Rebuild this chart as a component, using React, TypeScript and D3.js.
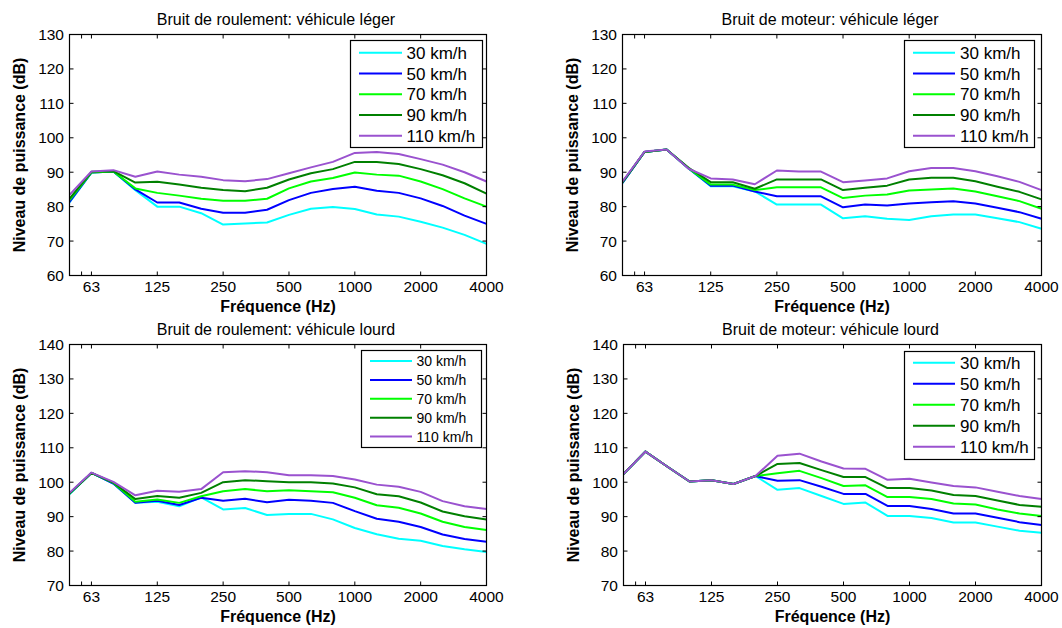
import React from 'react';
import * as d3 from 'd3';

// 1/3-octave band index positions (50 Hz .. 4000 Hz -> index 0..19)
const bandCount = 20;
const freqTickIndex = [1, 4, 7, 10, 13, 16, 19];
const freqTickLabels = ['63', '125', '250', '500', '1000', '2000', '4000'];
const speedLabels = ['30 km/h', '50 km/h', '70 km/h', '90 km/h', '110 km/h'];
const speedColors = ['#00ffff', '#0000ff', '#00ff00', '#008000', '#9a52cf'];

// Bruit de roulement: véhicule léger
const rollLight30 = [81.2, 89.9, 90.2, 84.8, 80.0, 80.0, 78.1, 74.8, 75.1, 75.4, 77.6, 79.4, 79.9, 79.3, 77.7, 77.1, 75.6, 73.9, 71.8, 69.2];
const rollLight50 = [81.4, 89.9, 90.2, 85.0, 81.2, 81.2, 79.4, 78.2, 78.2, 79.1, 81.9, 84.0, 85.1, 85.8, 84.6, 84.0, 82.4, 80.2, 77.4, 75.0];
const rollLight70 = [81.9, 89.9, 90.2, 85.3, 84.0, 83.2, 82.3, 81.7, 81.7, 82.3, 85.3, 87.3, 88.3, 89.9, 89.3, 89.0, 87.3, 85.1, 82.4, 80.0];
const rollLight90 = [82.3, 90.1, 90.3, 87.0, 87.2, 86.4, 85.5, 84.8, 84.5, 85.5, 87.9, 89.7, 90.9, 93.0, 93.0, 92.4, 90.9, 89.1, 86.8, 83.8];
const rollLight110 = [83.4, 90.2, 90.6, 88.7, 90.2, 89.3, 88.7, 87.7, 87.4, 88.0, 89.7, 91.4, 93.0, 95.6, 95.9, 95.3, 93.8, 92.2, 90.0, 87.3];

// Bruit de moteur: véhicule léger
const engLight30 = [86.9, 95.9, 96.6, 91.1, 85.9, 85.9, 84.4, 80.6, 80.6, 80.6, 76.6, 77.2, 76.5, 76.1, 77.2, 77.7, 77.7, 76.6, 75.5, 73.6];
const engLight50 = [86.9, 95.9, 96.6, 91.1, 86.1, 86.1, 84.4, 83.0, 83.0, 83.0, 79.8, 80.6, 80.3, 80.9, 81.3, 81.6, 80.9, 79.7, 78.4, 76.5];
const engLight70 = [87.1, 95.9, 96.6, 91.1, 86.4, 86.4, 84.8, 85.6, 85.6, 85.6, 82.5, 83.2, 83.5, 84.7, 85.0, 85.3, 84.4, 83.0, 81.6, 79.4];
const engLight90 = [87.1, 95.9, 96.6, 91.3, 87.1, 87.1, 85.2, 87.9, 87.9, 87.9, 84.8, 85.5, 86.1, 87.9, 88.4, 88.4, 87.4, 85.8, 84.3, 82.1];
const engLight110 = [87.3, 96.0, 96.6, 91.0, 88.2, 87.9, 86.5, 90.5, 90.2, 90.2, 87.1, 87.6, 88.2, 90.3, 91.2, 91.2, 90.3, 88.8, 87.2, 84.8];

// Bruit de roulement: véhicule lourd
const rollHeavy30 = [96.5, 102.7, 99.6, 94.0, 94.3, 93.0, 95.6, 92.1, 92.5, 90.5, 90.8, 90.8, 89.2, 86.7, 84.9, 83.6, 83.0, 81.5, 80.5, 79.7];
const rollHeavy50 = [96.7, 102.7, 99.6, 94.0, 94.6, 93.4, 95.5, 94.6, 95.2, 94.2, 94.9, 94.6, 94.0, 91.6, 89.4, 88.5, 87.0, 84.8, 83.5, 82.7];
const rollHeavy70 = [96.7, 102.7, 99.8, 94.3, 95.0, 94.0, 95.9, 97.4, 98.0, 97.4, 97.7, 97.4, 97.1, 95.5, 93.3, 92.6, 90.9, 88.5, 87.0, 86.1];
const rollHeavy90 = [96.7, 102.7, 99.9, 95.1, 96.0, 95.5, 96.9, 100.0, 100.6, 100.3, 100.0, 100.0, 99.6, 98.5, 96.5, 95.9, 94.1, 91.5, 90.1, 89.2];
const rollHeavy110 = [96.9, 102.8, 100.1, 96.2, 97.5, 97.2, 98.0, 102.9, 103.2, 102.9, 102.0, 102.0, 101.8, 100.8, 99.3, 98.7, 97.2, 94.5, 93.0, 92.2];

// Bruit de moteur: véhicule lourd
const engHeavy30 = [102.4, 108.9, 104.5, 100.2, 100.6, 99.5, 101.8, 97.8, 98.3, 96.0, 93.7, 94.1, 90.2, 90.2, 89.6, 88.3, 88.3, 87.1, 85.9, 85.3];
const engHeavy50 = [102.4, 108.9, 104.5, 100.2, 100.6, 99.5, 101.8, 100.4, 100.6, 98.7, 96.6, 96.6, 93.1, 93.1, 92.2, 90.9, 90.9, 89.7, 88.4, 87.6];
const engHeavy70 = [102.4, 108.9, 104.5, 100.2, 100.6, 99.5, 101.8, 102.6, 103.3, 101.2, 98.9, 99.1, 95.7, 95.7, 95.1, 93.8, 93.5, 92.1, 90.9, 90.2];
const engHeavy90 = [102.4, 108.9, 104.5, 100.2, 100.6, 99.5, 101.8, 105.3, 105.6, 103.5, 101.5, 101.5, 98.3, 98.3, 97.6, 96.3, 96.0, 94.7, 93.4, 92.9];
const engHeavy110 = [102.4, 108.9, 104.5, 100.2, 100.6, 99.5, 101.8, 107.7, 108.3, 106.0, 104.0, 103.9, 100.7, 101.0, 99.9, 98.9, 98.5, 97.2, 96.0, 95.1];

const lightYTicks = [60, 70, 80, 90, 100, 110, 120, 130];
const heavyYTicks = [70, 80, 90, 100, 110, 120, 130, 140];

type Panel = {
  title: string;
  box: { x0: number; x1: number; y0: number; y1: number };
  yTicks: number[];
  series: number[][];
  legend: { x0: number; x1: number; y0: number; y1: number; row0: number; rowStep: number; lx0: number; lx1: number; tx: number; fs: number };
};

const panels: Panel[] = [
  {
    title: 'Bruit de roulement: véhicule léger',
    box: { x0: 69.5, x1: 486.5, y0: 34.5, y1: 275.5 },
    yTicks: lightYTicks,
    series: [rollLight30, rollLight50, rollLight70, rollLight90, rollLight110],
    legend: { x0: 350.5, x1: 482.5, y0: 40.5, y1: 147.5, row0: 52.7, rowStep: 20.75, lx0: 359, lx1: 402, tx: 406.5, fs: 17 },
  },
  {
    title: 'Bruit de moteur: véhicule léger',
    box: { x0: 622.5, x1: 1041.5, y0: 34.5, y1: 275.5 },
    yTicks: lightYTicks,
    series: [engLight30, engLight50, engLight70, engLight90, engLight110],
    legend: { x0: 904.5, x1: 1034.5, y0: 40.5, y1: 147.5, row0: 52.7, rowStep: 20.75, lx0: 913, lx1: 955, tx: 960, fs: 17 },
  },
  {
    title: 'Bruit de roulement: véhicule lourd',
    box: { x0: 69.5, x1: 486.5, y0: 344.5, y1: 585.5 },
    yTicks: heavyYTicks,
    series: [rollHeavy30, rollHeavy50, rollHeavy70, rollHeavy90, rollHeavy110],
    legend: { x0: 361.5, x1: 481.5, y0: 350.5, y1: 447.5, row0: 361, rowStep: 18.9, lx0: 370, lx1: 412, tx: 416.5, fs: 14 },
  },
  {
    title: 'Bruit de moteur: véhicule lourd',
    box: { x0: 623.5, x1: 1041.5, y0: 344.5, y1: 585.5 },
    yTicks: heavyYTicks,
    series: [engHeavy30, engHeavy50, engHeavy70, engHeavy90, engHeavy110],
    legend: { x0: 904.5, x1: 1034.5, y0: 351.5, y1: 459.5, row0: 362.7, rowStep: 21, lx0: 913, lx1: 955, tx: 960, fs: 17 },
  },
];

const FONT = '"Liberation Sans", Arial, Helvetica, sans-serif';

function ChartPanel({ p, idx }: { p: Panel; idx: number }) {
  const { x0, x1, y0, y1 } = p.box;
  const x = d3.scaleLinear().domain([0, bandCount - 1]).range([x0, x1]);
  const y = d3.scaleLinear().domain([p.yTicks[0], p.yTicks[p.yTicks.length - 1]]).range([y1, y0]);
  const line = d3
    .line<number>()
    .x((_, i) => x(i))
    .y((v) => y(v));
  const tickLen = 4;
  const minorIdx = [0.55];
  const cx = (x0 + x1) / 2;
  const cy = (y0 + y1) / 2;
  const L = p.legend;
  const clipId = `clip-panel-${idx}`;
  return (
    <g>
      <defs>
        <clipPath id={clipId}>
          <rect x={x0} y={y0} width={x1 - x0} height={y1 - y0} />
        </clipPath>
      </defs>
      <g clipPath={`url(#${clipId})`}>
        {p.series.map((s, k) => (
          <path key={k} d={line(s) || ''} fill="none" stroke={speedColors[k]} strokeWidth={2} strokeLinejoin="round" />
        ))}
      </g>
      <rect x={x0} y={y0} width={x1 - x0} height={y1 - y0} fill="none" stroke="#000" strokeWidth={1.2} />
      {freqTickIndex.concat(minorIdx).map((t, i) => (
        <g key={`xt${i}`}>
          <line x1={x(t)} x2={x(t)} y1={y1} y2={y1 - tickLen} stroke="#000" strokeWidth={1} />
          <line x1={x(t)} x2={x(t)} y1={y0} y2={y0 + tickLen} stroke="#000" strokeWidth={1} />
        </g>
      ))}
      {freqTickIndex.map((t, i) => (
        <text key={`xl${i}`} x={x(t)} y={y1 + 16.5} textAnchor="middle" fontSize={15.5} fontFamily={FONT} fill="#000">
          {freqTickLabels[i]}
        </text>
      ))}
      {p.yTicks.map((t, i) => (
        <g key={`yt${i}`}>
          <line x1={x0} x2={x0 + tickLen} y1={y(t)} y2={y(t)} stroke="#000" strokeWidth={1} />
          <line x1={x1} x2={x1 - tickLen} y1={y(t)} y2={y(t)} stroke="#000" strokeWidth={1} />
          <text x={x0 - 5.5} y={y(t) + 5.5} textAnchor="end" fontSize={15.5} fontFamily={FONT} fill="#000">
            {t}
          </text>
        </g>
      ))}
      <text x={cx - 2} y={y0 - 9.5} textAnchor="middle" fontSize={16} fontFamily={FONT} fill="#000">
        {p.title}
      </text>
      <text x={cx} y={y1 + 36.5} textAnchor="middle" fontSize={16} fontWeight="bold" fontFamily={FONT} fill="#000">
        Fréquence (Hz)
      </text>
      <text
        transform={`translate(${x0 - 45},${cy}) rotate(-90)`}
        textAnchor="middle"
        fontSize={16}
        fontWeight="bold"
        fontFamily={FONT}
        fill="#000"
      >
        Niveau de puissance (dB)
      </text>
      <rect x={L.x0} y={L.y0} width={L.x1 - L.x0} height={L.y1 - L.y0} fill="#fff" stroke="#000" strokeWidth={1.2} />
      {speedLabels.map((s, k) => (
        <g key={`lg${k}`}>
          <line x1={L.lx0} x2={L.lx1} y1={L.row0 + k * L.rowStep} y2={L.row0 + k * L.rowStep} stroke={speedColors[k]} strokeWidth={2} />
          <text x={L.tx} y={L.row0 + k * L.rowStep + L.fs * 0.36} fontSize={L.fs} fontFamily={FONT} fill="#000">
            {s}
          </text>
        </g>
      ))}
    </g>
  );
}

export default function App() {
  return (
    <svg
      width={1062}
      height={628}
      viewBox="0 0 1062 628"
      style={{ position: 'absolute', left: 0, top: 0, background: '#fff' }}
    >
      <rect x={0} y={0} width={1062} height={628} fill="#fff" />
      {panels.map((p, i) => (
        <ChartPanel key={i} p={p} idx={i} />
      ))}
    </svg>
  );
}
